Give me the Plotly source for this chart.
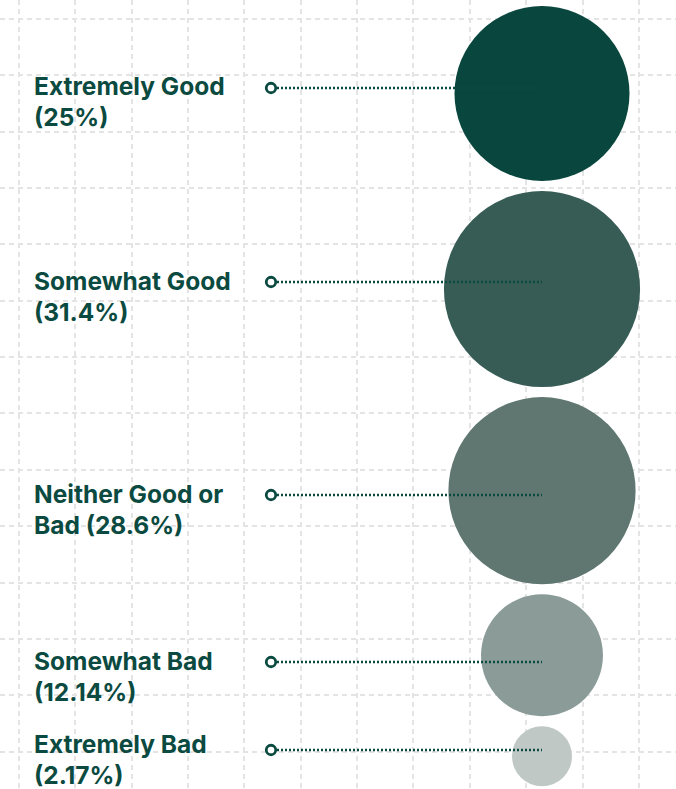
import plotly.graph_objects as go

# Survey responses and their share of respondents (%)
categories = ["Extremely Good", "Somewhat Good", "Neither Good or Bad", "Somewhat Bad", "Extremely Bad"]
shares = [25, 31.4, 28.6, 12.14, 2.17]
label_lines = [
    ["Extremely Good", "(25%)"],
    ["Somewhat Good", "(31.4%)"],
    ["Neither Good or", "Bad (28.6%)"],
    ["Somewhat Bad", "(12.14%)"],
    ["Extremely Bad", "(2.17%)"],
]

# Styling / layout
W, H = 676, 789
bubble_colors = ["#08463e", "#375c55", "#5f7770", "#8a9b98", "#c0c8c6"]
text_color = "#0b4a40"
grid_color = "#e4e4e4"
bubble_x = 542
max_radius = 87.5 * (max(shares) / 25) ** 0.5
sizeref = max(shares) / (2 * max_radius ** 2)
min_radius = 30
top_pad, gap = 6, 10
connector_y = [88, 282, 495, 662, 750]
text_y = [86, 281, 494, 661, 744]
label_x = 32
dot_x = 271
line_gap = 31

# stack bubbles vertically, each just below the previous one
radii = [max(min_radius, (v / (2 * sizeref)) ** 0.5) for v in shares]
centers = []
cursor = top_pad
for r in radii:
    centers.append(cursor + r)
    cursor += 2 * r + gap

fig = go.Figure()

fig.add_trace(go.Scatter(
    x=[bubble_x] * len(shares), y=centers, mode="markers",
    marker=dict(size=shares, sizemode="area", sizeref=sizeref, sizemin=min_radius,
                color=bubble_colors, line=dict(width=0), opacity=1),
    hoverinfo="text", text=categories, showlegend=False,
))

shapes = []
for cy in connector_y:
    shapes.append(dict(type="line", x0=dot_x + 6, x1=bubble_x, y0=cy, y1=cy,
                       xref="x", yref="y", layer="above",
                       line=dict(color=text_color, width=2.5, dash="2px,2px")))

fig.add_trace(go.Scatter(
    x=[dot_x] * len(connector_y), y=connector_y, mode="markers",
    marker=dict(size=9.5, color="white", line=dict(color=text_color, width=2.8)),
    hoverinfo="skip", showlegend=False,
))

annotations = []
for lines, ty in zip(label_lines, text_y):
    for k, line in enumerate(lines):
        annotations.append(dict(
            x=label_x, y=ty + k * line_gap, xref="x", yref="y",
            text=line, showarrow=False, xanchor="left", yanchor="middle",
            font=dict(family="Inter", size=24.5, color=text_color, weight=700),
        ))

axis_common = dict(showticklabels=False, zeroline=False, showline=False, ticks="",
                   showgrid=True, gridcolor=grid_color, gridwidth=1.5,
                   griddash="5px,4px", tick0=19, dtick=56.35, fixedrange=True)

fig.update_layout(
    width=W, height=H, margin=dict(l=0, r=0, t=0, b=0),
    paper_bgcolor="white", plot_bgcolor="white",
    xaxis=dict(range=[0, W], **axis_common),
    yaxis=dict(range=[H, 0], **axis_common),
    shapes=shapes, annotations=annotations,
)

fig.write_html("out.html")
